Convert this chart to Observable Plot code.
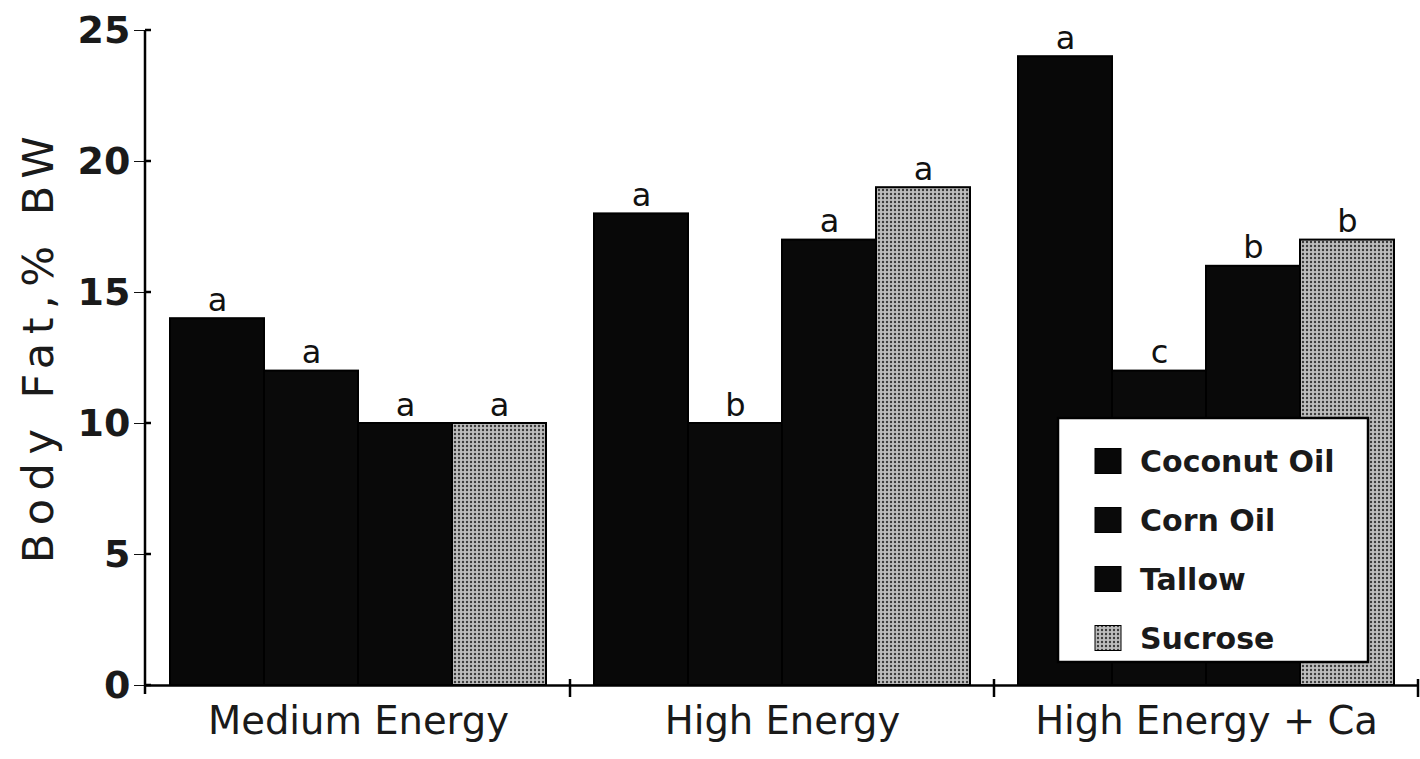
<!DOCTYPE html>
<html>
<head>
<meta charset="utf-8">
<script src="https://cdn.jsdelivr.net/npm/d3@7"></script>
<script src="https://cdn.jsdelivr.net/npm/@observablehq/plot@0.6"></script>
<style>
  body { margin: 0; background: #fff; }
  #chart { position: relative; width: 1420px; height: 759px; }
  #chart svg g[aria-label^="y-axis"] text { font-size: 38px; font-weight: bold; fill: #1a1a1a; }
  #chart svg g[aria-label^="fx-axis"] text { font-size: 38.5px; font-weight: normal; fill: #1a1a1a; }
</style>
</head>
<body>
<div id="chart"></div>
<script>
// ---- data ----
const groups = ["Medium Energy", "High Energy", "High Energy + Ca"];
const fats = ["Coconut Oil", "Corn Oil", "Tallow", "Sucrose"];
const mediumEnergy = [14, 12, 10, 10];
const highEnergy = [18, 10, 17, 19];
const highEnergyCa = [24, 12, 16, 17];
const mediumLetters = ["a", "a", "a", "a"];
const highLetters = ["a", "b", "a", "a"];
const highCaLetters = ["a", "c", "b", "b"];
const yTicks = [0, 5, 10, 15, 20, 25];
const yLabel = "Body Fat,% BW";
const fillColors = ["#080808", "#0a0a0a", "#090909", "url(#sucrose)"];

const valueSets = [mediumEnergy, highEnergy, highEnergyCa];
const letterSets = [mediumLetters, highLetters, highCaLetters];
const rows = [];
groups.forEach((g, gi) => fats.forEach((f, fi) => rows.push({
  group: g, fat: f, value: valueSets[gi][fi], letter: letterSets[gi][fi]
})));

const plot = Plot.plot({
  width: 1420,
  height: 759,
  marginLeft: 145,
  marginRight: 2,
  marginTop: 30,
  marginBottom: 74,
  style: { fontFamily: "'DejaVu Sans', sans-serif", fontSize: "30px", background: "#fff", color: "#111", overflow: "visible" },
  fx: { domain: groups, padding: 0, axis: "bottom", tickSize: 0, tickPadding: 21, label: null },
  x: { domain: fats, paddingInner: 0, paddingOuter: 0.255, axis: null },
  y: { domain: [0, 25], ticks: yTicks, tickSize: 12, tickPadding: 4, label: null },
  color: { domain: fats, range: fillColors },
  marks: [
    Plot.barY(rows, { fx: "group", x: "fat", y: "value", fill: "fat", stroke: "#000", strokeWidth: 2 }),
    Plot.text(rows, { fx: "group", x: "fat", y: "value", text: "letter", lineAnchor: "bottom", dy: -8, fontSize: 32, fill: "#111" }),
    Plot.ruleY([0], { stroke: "#000", strokeWidth: 2.5 })
  ]
});

document.getElementById("chart").appendChild(plot);

// ---- decorations using Plot's own scales ----
const svg = d3.select(plot);
const fxS = plot.scale("fx");
const yS = plot.scale("y");
const colorS = plot.scale("color");
const y0 = yS.apply(0);
const yTop = yS.apply(25);
const xLeft = fxS.range[0];

// sucrose stipple pattern
const defs = svg.insert("defs", ":first-child");
const pat = defs.append("pattern").attr("id", "sucrose").attr("patternUnits", "userSpaceOnUse")
  .attr("width", 4).attr("height", 4);
pat.append("rect").attr("width", 4).attr("height", 4).attr("fill", "#bdbdbd");
pat.append("circle").attr("cx", 2).attr("cy", 2).attr("r", 1.2).attr("fill", "#3a3a3a");

const deco = svg.append("g").attr("stroke", "#000").attr("stroke-width", 2.5);
// y axis line
deco.append("line").attr("x1", xLeft).attr("x2", xLeft).attr("y1", yTop).attr("y2", y0 + 9);
// short right-side tick stubs
yTicks.forEach(t => deco.append("line").attr("x1", xLeft).attr("x2", xLeft + 6)
  .attr("y1", yS.apply(t)).attr("y2", yS.apply(t)));
// group boundary ticks on the bottom axis
groups.forEach(g => {
  const xb = fxS.apply(g) + fxS.bandwidth;
  deco.append("line").attr("x1", xb).attr("x2", xb).attr("y1", y0 - 6).attr("y2", y0 + 12);
});

// y label
svg.append("text")
  .attr("transform", `translate(38,${(y0 + yTop) / 2 - 12}) rotate(-90)`)
  .attr("text-anchor", "middle")
  .attr("dy", "0.35em")
  .attr("font-size", 43)
  .attr("letter-spacing", 8.5)
  .attr("fill", "#1a1a1a")
  .text(yLabel);

// legend
const lg = svg.append("g").attr("text-anchor", "start");
lg.append("rect").attr("x", 1058).attr("y", 418).attr("width", 310).attr("height", 244)
  .attr("fill", "#fff").attr("stroke", "#000").attr("stroke-width", 2.5);
fats.forEach((f, i) => {
  const cy = 461 + i * 59;
  lg.append("rect").attr("x", 1095).attr("y", cy - 12.5).attr("width", 26).attr("height", 25)
    .attr("fill", colorS.apply(f)).attr("stroke", "#000").attr("stroke-width", 1);
  lg.append("text").attr("x", 1140).attr("y", cy).attr("dy", "0.36em").attr("text-anchor", "start")
    .attr("font-size", 30).attr("font-weight", "bold").attr("fill", "#1a1a1a").text(f);
});
</script>
</body>
</html>
